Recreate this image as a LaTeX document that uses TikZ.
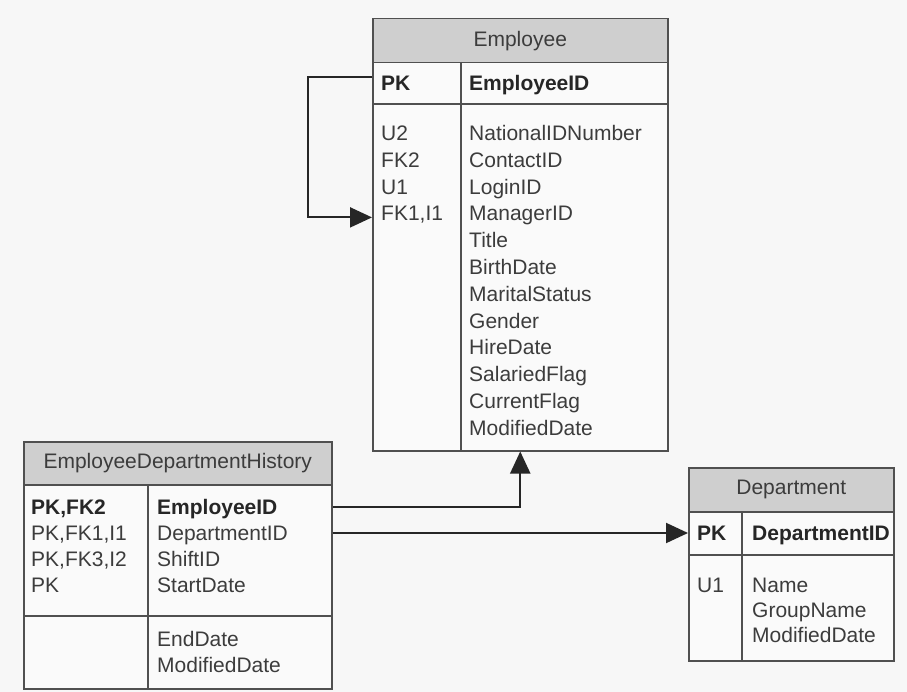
\documentclass[tikz,border=0pt]{standalone}
\usepackage{fontspec}
\setmainfont{Liberation Sans}
\usepackage{xcolor}
\usetikzlibrary{arrows.meta, positioning, calc}

\definecolor{pagebg}{HTML}{F7F7F7}
\definecolor{cellbg}{HTML}{FAFAFA}
\definecolor{headgray}{HTML}{CFCFCF}
\definecolor{linegray}{HTML}{505050}
\definecolor{txtgray}{HTML}{3C3C3C}

\begin{document}
\begin{tikzpicture}[
        x=1pt, y=-1pt,
        tbl/.style={rectangle, draw=linegray, line width=1.5pt, fill=cellbg, anchor=north west, inner sep=0pt},
        head/.style={tbl, fill=headgray, font=\fontsize{21}{25}\selectfont, text=txtgray},
        sep/.style={draw=linegray, line width=1.5pt},
        fld/.style={anchor=west, inner sep=0pt, text height=15.5pt, text depth=0.5pt,
            font=\fontsize{21}{25}\selectfont, text=txtgray},
        key/.style={fld, font=\fontsize{21}{25}\selectfont\bfseries, text=black!85},
        rel/.style={draw=black!85, line width=2pt, -{Triangle[length=22pt, width=20pt]}}
    ]
        \useasboundingbox[fill=pagebg] (0,0) rectangle (907,692);

        % Employee
        \node[tbl, minimum width=295, minimum height=432] (emp) at (372,18) {};
        \node[head, minimum width=295, minimum height=44] (emp-head) at (372,18) {Employee};
        \draw[sep] (372,104) -- (667,104);
        \draw[sep] (461,62) -- (461,450);
        \node[key] (emp-pk) at (381,83) {PK};
        \node[key] (emp-id) at (469,83) {EmployeeID};
        \foreach \k/\f [count=\i from 0] in {U2/NationalIDNumber, FK2/ContactID, U1/LoginID,
                {FK1,I1}/ManagerID, /Title, /BirthDate, /MaritalStatus, /Gender, /HireDate,
                /SalariedFlag, /CurrentFlag, /ModifiedDate}
        {
            \node[fld] (emp-k\i) at (381,{133+26.8*\i}) {\k};
            \node[fld] (emp-f\i) at (469,{133+26.8*\i}) {\f};
        }

        % EmployeeDepartmentHistory
        \node[tbl, minimum width=308, minimum height=247] (edh) at (23,441) {};
        \node[head, minimum width=308, minimum height=43] (edh-head) at (23,441) {EmployeeDepartmentHistory};
        \draw[sep] (23,616) -- (331,616);
        \draw[sep] (148,484) -- (148,688);
        \node[key] (edh-k0) at (31,507) {PK,FK2};
        \node[key] (edh-f0) at (157,507) {EmployeeID};
        \foreach \k/\f [count=\i from 1] in {{PK,FK1,I1}/DepartmentID, {PK,FK3,I2}/ShiftID, PK/StartDate}
        {
            \node[fld] (edh-k\i) at (31,{507+26*\i}) {\k};
            \node[fld] (edh-f\i) at (157,{507+26*\i}) {\f};
        }
        \node[fld] (edh-f4) at (157,639) {EndDate};
        \node[fld] (edh-f5) at (157,665) {ModifiedDate};

        % Department
        \node[tbl, minimum width=205, minimum height=193] (dept) at (688,467) {};
        \node[head, minimum width=205, minimum height=44] (dept-head) at (688,467) {Department};
        \draw[sep] (688,555) -- (893,555);
        \draw[sep] (742,511) -- (742,660);
        \node[key] (dept-pk) at (697,533) {PK};
        \node[key] (dept-id) at (752,533) {DepartmentID};
        \node[fld] (dept-k1) at (697,585) {U1};
        \node[fld] (dept-f1) at (752,585) {Name};
        \node[fld] (dept-f2) at (752,610) {GroupName};
        \node[fld] (dept-f3) at (752,635) {ModifiedDate};

        % relations
        \draw[rel] ([yshift=6pt]emp.west |- emp-pk) -- ++(-64,0) |- ([yshift=-4pt]emp.west |- emp-k3);
        \draw[rel] (edh.east |- edh-f0) -| (emp.south);
        \draw[rel] (edh.east |- edh-f1) -- (dept.west |- edh-f1);
\end{tikzpicture}
\end{document}
